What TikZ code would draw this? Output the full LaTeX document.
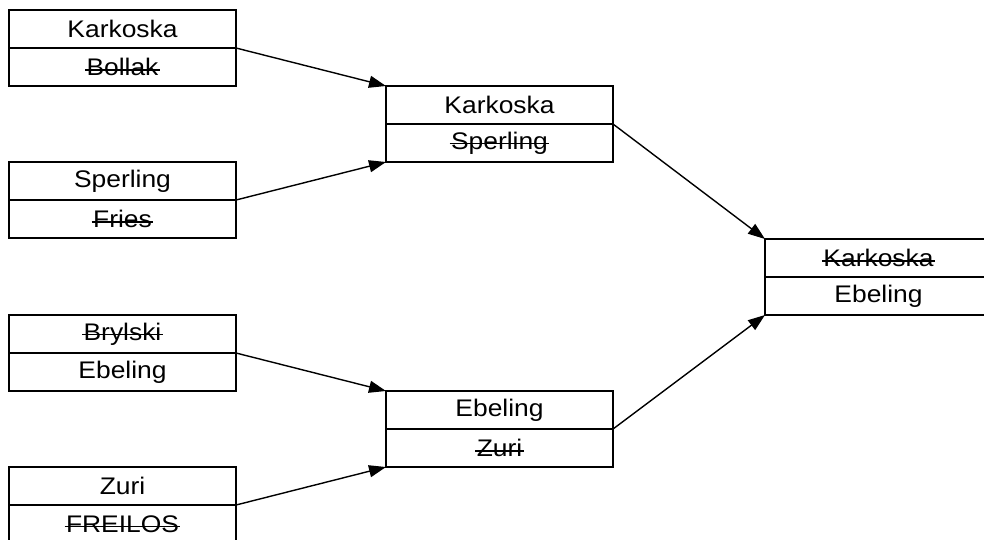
\documentclass[tikz,border=0pt]{standalone}
\usepackage{fontspec}
\setmainfont{Liberation Sans}[FakeStretch=1.1]
\usetikzlibrary{arrows.meta}
\usetikzlibrary{positioning}
\tikzset{%
  namecell/.style={rectangle,draw,line width=1.6pt,minimum width=227pt,
    minimum height=38pt,inner sep=0pt,outer sep=0pt,
    font=\fontsize{24}{28}\selectfont},
  winarrow/.style={line width=1.4pt,-{Triangle[length=17pt,width=12pt]}}
}
% struck-through name (loser of a match)
\newcommand\lost[1]{\setbox0\hbox{#1}%
  \rlap{\kern-1.5pt\raisebox{0.2em}{\rule{\dimexpr\wd0+3pt\relax}{1.5pt}}}\box0}

\begin{document}
\begin{tikzpicture}[x=1pt,y=-1pt]
    \useasboundingbox (0,0) rectangle (984,539);
    \clip (0,0) rectangle (984,539);
    % first round
    \node[namecell] (m1top) at (122.5,29) {Karkoska};
    \node[namecell,below=0pt of m1top] (m1bot) {\lost{Bollak}};
    \node[namecell] (m2top) at (122.5,181) {Sperling};
    \node[namecell,below=0pt of m2top] (m2bot) {\lost{Fries}};
    \node[namecell] (m3top) at (122.5,334) {\lost{Brylski}};
    \node[namecell,below=0pt of m3top] (m3bot) {Ebeling};
    \node[namecell] (m4top) at (122.5,486) {Zuri};
    \node[namecell,below=0pt of m4top] (m4bot) {\lost{FREILOS}};
    % semi finals
    \node[namecell] (s1top) at (499.5,105) {Karkoska};
    \node[namecell,below=0pt of s1top] (s1bot) {\lost{Sperling}};
    \node[namecell] (s2top) at (499.5,410) {Ebeling};
    \node[namecell,below=0pt of s2top] (s2bot) {\lost{Zuri}};
    % final
    \node[namecell] (ftop) at (878.5,258) {\lost{Karkoska}};
    \node[namecell,below=0pt of ftop] (fbot) {Ebeling};
    \draw[winarrow] (m1top.south east) -- (s1top.north west);
    \draw[winarrow] (m2top.south east) -- (s1bot.south west);
    \draw[winarrow] (m3top.south east) -- (s2top.north west);
    \draw[winarrow] (m4top.south east) -- (s2bot.south west);
    \draw[winarrow] (s1top.south east) -- (ftop.north west);
    \draw[winarrow] (s2top.south east) -- (fbot.south west);
\end{tikzpicture}
\end{document}
